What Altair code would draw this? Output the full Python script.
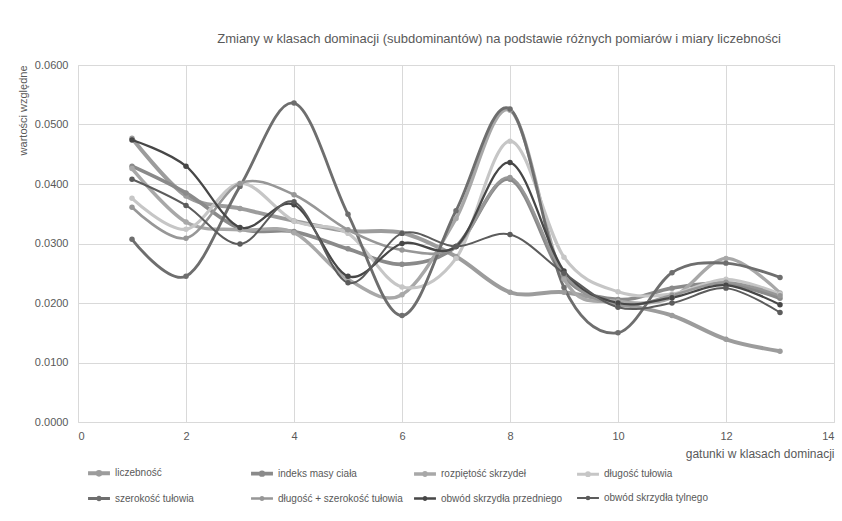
import altair as alt
import pandas as pd

# Species rank in the dominance classes (x axis)
gatunki = list(range(1, 14))

# Relative values for each measure
liczebnosc = [0.0477, 0.0380, 0.0359, 0.0338, 0.0321, 0.0318, 0.0278, 0.0218, 0.0218, 0.0199, 0.0179, 0.0139, 0.0119]
indeks_masy = [0.0430, 0.0385, 0.0325, 0.0320, 0.0291, 0.0265, 0.0295, 0.0408, 0.0244, 0.0206, 0.0225, 0.0233, 0.0208]
rozpietosc = [0.0426, 0.0336, 0.0323, 0.0318, 0.0240, 0.0214, 0.0342, 0.0524, 0.0240, 0.0203, 0.0209, 0.0275, 0.0217]
dlugosc = [0.0376, 0.0324, 0.0401, 0.0338, 0.0317, 0.0227, 0.0275, 0.0472, 0.0277, 0.0219, 0.0215, 0.0240, 0.0215]
szerokosc = [0.0307, 0.0245, 0.0396, 0.0536, 0.0349, 0.0179, 0.0355, 0.0526, 0.0226, 0.0150, 0.0251, 0.0267, 0.0243]
dl_szer = [0.0361, 0.0309, 0.0401, 0.0382, 0.0323, 0.0289, 0.0295, 0.0411, 0.0248, 0.0196, 0.0213, 0.0235, 0.0212]
obwod_przedni = [0.0474, 0.0430, 0.0327, 0.0365, 0.0245, 0.0300, 0.0295, 0.0436, 0.0254, 0.0200, 0.0209, 0.0230, 0.0197]
obwod_tylny = [0.0408, 0.0364, 0.0299, 0.0370, 0.0234, 0.0317, 0.0295, 0.0315, 0.0250, 0.0193, 0.0200, 0.0225, 0.0184]

serie = [
    "liczebność",
    "indeks masy ciała",
    "rozpiętość skrzydeł",
    "długość tułowia",
    "szerokość tułowia",
    "długość + szerokość tułowia",
    "obwód skrzydła przedniego",
    "obwód skrzydła tylnego",
]
wartosci = [liczebnosc, indeks_masy, rozpietosc, dlugosc, szerokosc, dl_szer, obwod_przedni, obwod_tylny]
kolory = ["#9c9c9c", "#8a8a8a", "#a8a8a8", "#c6c6c6", "#6e6e6e", "#979797", "#474747", "#5c5c5c"]
grubosci = [4, 2, 2, 2, 2, 2, 2, 2]

rows = []
for name, vals in zip(serie, wartosci):
    for g, v in zip(gatunki, vals):
        rows.append({"seria": name, "gatunek": g, "wartosc": v})
df = pd.DataFrame(rows)

font = "Liberation Sans Narrow, Liberation Sans, sans-serif"
grey_text = "#595959"

# legend symbol: short line with a dot in the middle
legend_symbol = "M-1,0L1,0M0.12,0A0.12,0.12,0,1,1,-0.12,0A0.12,0.12,0,1,1,0.12,0Z"

x_enc = alt.X(
    "gatunek:Q",
    scale=alt.Scale(domain=[0, 14], nice=False, zero=False),
    axis=alt.Axis(
        values=[0, 2, 4, 6, 8, 10, 12, 14],
        title="gatunki w klasach dominacji",
        titleAnchor="end",
        titleAlign="right",
        titleFontWeight="normal",
        titleFontSize=12,
        titleColor=grey_text,
        titlePadding=7,
        labelFontSize=11,
        labelColor=grey_text,
        labelPadding=8,
        ticks=False,
        domain=False,
        gridColor="#d9d9d9",
        labelFont=font,
        titleFont=font,
    ),
)
y_enc = alt.Y(
    "wartosc:Q",
    scale=alt.Scale(domain=[0, 0.06], nice=False),
    axis=alt.Axis(
        values=[0, 0.01, 0.02, 0.03, 0.04, 0.05, 0.06],
        format=".4f",
        title="wartości względne",
        titleAnchor="end",
        titleFontWeight="normal",
        titleFontSize=11,
        titleColor=grey_text,
        titlePadding=6,
        labelFontSize=11,
        labelColor=grey_text,
        labelPadding=10,
        ticks=False,
        domain=False,
        gridColor="#d9d9d9",
        labelFont=font,
        titleFont=font,
    ),
)
color_enc = alt.Color(
    "seria:N",
    scale=alt.Scale(domain=serie, range=kolory),
    sort=serie,
    legend=alt.Legend(
        title=None,
        orient="none",
        legendX=8,
        legendY=395,
        direction="horizontal",
        columns=4,
        columnPadding=3,
        rowPadding=3,
        gridAlign="all",
        symbolType=legend_symbol,
        symbolSize=480,
        symbolStrokeWidth=1.5,
        labelFontSize=10,
        labelColor=grey_text,
        labelFont=font,
        labelOffset=3,
        labelLimit=200,
    ),
)
width_enc = alt.StrokeWidth(
    "seria:N", scale=alt.Scale(domain=serie, range=grubosci), legend=None
)

lines = alt.Chart(df).mark_line(interpolate="cardinal").encode(
    x=x_enc, y=y_enc, color=color_enc, strokeWidth=width_enc, order="gatunek:Q"
)
points = alt.Chart(df).mark_circle(size=30, opacity=1).encode(
    x="gatunek:Q", y="wartosc:Q", color=alt.Color("seria:N", scale=alt.Scale(domain=serie, range=kolory), legend=None)
)

chart = (
    alt.layer(lines, points)
    .properties(
        width=756,
        height=357,
        autosize=alt.AutoSizeParams(type="none"),
        padding={"left": 78, "top": 65, "right": 8, "bottom": 99},
        title=alt.TitleParams(
            "Zmiany w klasach dominacji (subdominantów)  na podstawie różnych pomiarów i miary liczebności",
            fontSize=13,
            fontWeight="normal",
            color=grey_text,
            font=font,
            anchor="middle",
            dx=43,
            offset=13,
        ),
    )
    .configure_view(stroke="#d9d9d9")
    .configure(background="white")
)

chart.save("out.html", embed_options={"renderer": "svg", "actions": False})
